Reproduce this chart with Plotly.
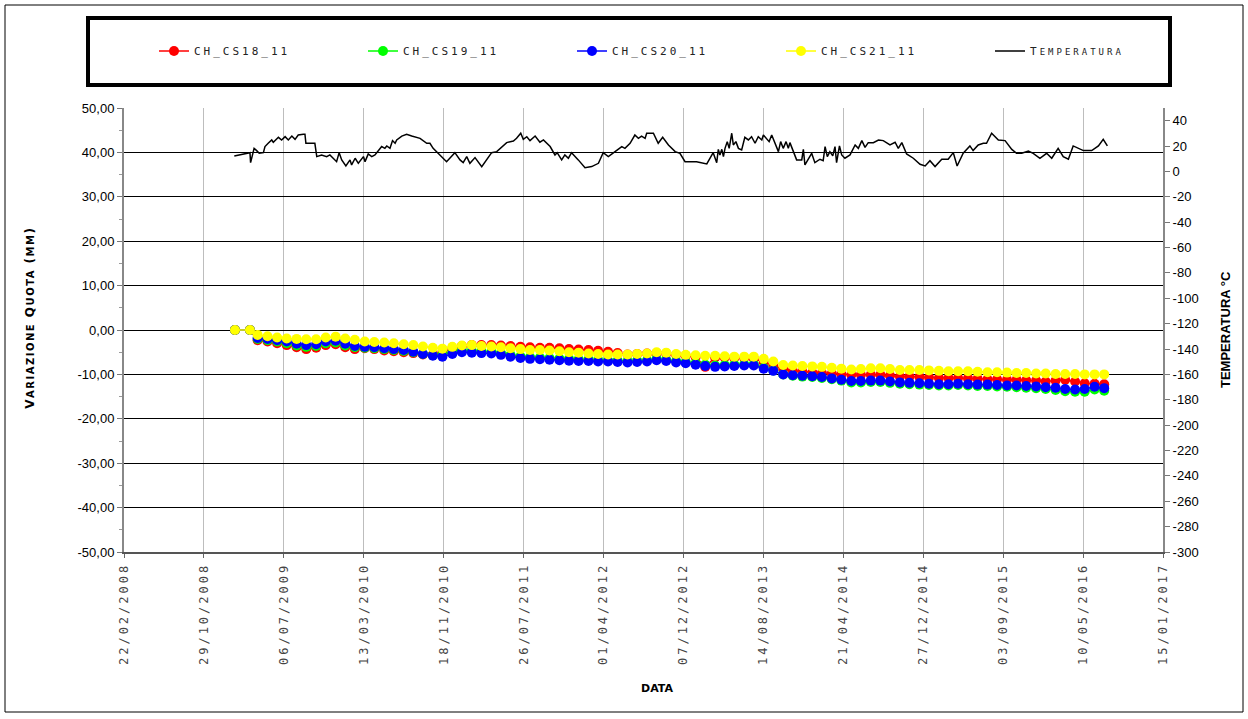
import pandas as pd
import plotly.graph_objects as go

# ---------------- data (Excel serial dates) ----------------
disp_serial = [39847, 39894,
    39918, 39949, 39979, 40009, 40040, 40070, 40101, 40131, 40162, 40192,
    40222, 40253, 40283, 40314, 40344, 40375, 40405, 40435, 40466, 40496,
    40527, 40557, 40588, 40618, 40649, 40679, 40709, 40740, 40770, 40801,
    40831, 40862, 40892, 40922, 40953, 40983, 41014, 41044, 41075, 41105,
    41136, 41166, 41196, 41227, 41257, 41288, 41318, 41349, 41379, 41409,
    41440, 41470, 41501, 41531, 41562, 41592, 41622, 41653, 41683, 41714,
    41744, 41775, 41805, 41836, 41866, 41896, 41927, 41957, 41988, 42018,
    42049, 42079, 42109, 42140, 42170, 42201, 42231, 42262, 42292, 42322,
    42353, 42383, 42414, 42444, 42475, 42505, 42536, 42566]

cs18 = [0.0, 0.0,
    -2.3, -2.6, -3.0, -3.4, -3.9, -4.3, -4.0, -3.4, -3.2, -3.9,
    -4.3, -4.1, -4.3, -4.6, -4.8, -5.0, -5.2, -5.5, -5.5, -5.0,
    -4.2, -3.6, -3.4, -3.4, -3.4, -3.5, -3.6, -3.8, -3.9, -4.0,
    -4.0, -4.1, -4.3, -4.4, -4.5, -4.7, -4.9, -5.2, -5.5, -5.4,
    -5.3, -5.2, -5.3, -5.6, -5.8, -6.1, -8.3, -6.2, -6.2, -6.3,
    -6.3, -6.4, -7.2, -8.0, -8.8, -9.2, -9.4, -9.6, -9.7, -9.8,
    -10.0, -10.1, -10.1, -10.1, -10.1, -10.3, -10.5, -10.5, -10.6, -10.7,
    -10.8, -10.8, -10.8, -10.9, -11.0, -11.1, -11.1, -11.2, -11.2, -11.3,
    -11.4, -11.6, -11.4, -11.2, -11.6, -12.0, -12.1, -12.2]

cs19 = [0.0, 0.0,
    -2.0, -2.3, -2.6, -3.0, -3.5, -3.8, -3.6, -3.0, -2.8, -3.5,
    -3.9, -4.0, -4.1, -4.3, -4.5, -4.7, -5.0, -5.4, -5.7, -5.6,
    -5.0, -4.6, -4.7, -4.8, -4.9, -5.2, -5.6, -5.9, -6.1, -6.2,
    -6.3, -6.4, -6.5, -6.6, -6.6, -6.7, -6.8, -6.9, -7.0, -6.9,
    -6.8, -6.5, -6.7, -7.0, -7.2, -7.5, -7.8, -8.0, -7.9, -7.8,
    -7.7, -7.7, -8.5, -9.1, -10.0, -10.3, -10.5, -10.6, -10.8, -11.1,
    -11.4, -11.8, -11.8, -11.7, -11.7, -11.9, -12.1, -12.2, -12.3, -12.4,
    -12.5, -12.5, -12.4, -12.5, -12.6, -12.6, -12.7, -12.8, -12.9, -13.0,
    -13.1, -13.3, -13.5, -13.8, -13.9, -13.9, -13.4, -13.7]

cs20 = [0.0, 0.0,
    -1.8, -2.0, -2.3, -2.6, -3.1, -3.4, -3.2, -2.6, -2.4, -3.1,
    -3.6, -3.8, -3.9, -4.1, -4.3, -4.5, -4.9, -5.4, -5.8, -6.0,
    -5.4, -5.0, -5.1, -5.2, -5.3, -5.6, -6.0, -6.3, -6.5, -6.6,
    -6.7, -6.8, -6.9, -7.0, -7.0, -7.1, -7.1, -7.2, -7.3, -7.2,
    -7.1, -6.8, -7.0, -7.3, -7.5, -7.8, -8.1, -8.3, -8.2, -8.1,
    -8.0, -8.0, -8.7, -9.2, -10.0, -10.2, -10.3, -10.4, -10.6, -10.9,
    -11.2, -11.5, -11.5, -11.4, -11.4, -11.6, -11.8, -11.9, -12.0, -12.1,
    -12.2, -12.2, -12.1, -12.2, -12.3, -12.3, -12.4, -12.5, -12.5, -12.6,
    -12.7, -12.9, -13.0, -13.3, -13.4, -13.3, -12.8, -13.1]

cs21 = [0.0, 0.0,
    -1.1, -1.4, -1.7, -1.9, -2.0, -2.1, -2.1, -1.7, -1.5, -1.9,
    -2.2, -2.6, -2.7, -2.8, -3.0, -3.2, -3.4, -3.7, -4.0, -4.2,
    -3.8, -3.5, -3.4, -3.6, -3.7, -3.9, -4.1, -4.3, -4.5, -4.5,
    -4.6, -4.8, -5.0, -5.1, -5.3, -5.4, -5.5, -5.5, -5.5, -5.4,
    -5.3, -5.0, -5.1, -5.4, -5.6, -5.7, -5.8, -5.8, -5.9, -6.0,
    -6.0, -6.0, -6.5, -7.1, -7.9, -8.0, -8.1, -8.2, -8.3, -8.5,
    -8.7, -8.9, -8.8, -8.6, -8.6, -8.8, -9.0, -9.0, -9.0, -9.1,
    -9.2, -9.3, -9.3, -9.3, -9.4, -9.5, -9.5, -9.6, -9.7, -9.7,
    -9.8, -9.8, -9.9, -9.9, -9.9, -10.0, -10.0, -10.0]

temp_serial = [39845, 39894, 39896, 39907, 39915, 39923, 39936, 39941, 39951, 39962,
    39967, 39983, 39993, 40004, 40014, 40025, 40035, 40045, 40061, 40066,
    40069, 40082, 40097, 40103, 40118, 40134, 40144, 40165, 40173, 40181,
    40194, 40207, 40212, 40223, 40233, 40249, 40254, 40264, 40275, 40285,
    40306, 40316, 40322, 40332, 40340, 40348, 40353, 40369, 40384, 40400,
    40426, 40447, 40457, 40467, 40480, 40488, 40509, 40535, 40551, 40561,
    40572, 40582, 40598, 40619, 40650, 40666, 40697, 40718, 40728, 40741,
    40749, 40760, 40770, 40786, 40801, 40812, 40833, 40848, 40855, 40869,
    40879, 40890, 40900, 40921, 40942, 40963, 40984, 40999, 41015, 41036,
    41057, 41067, 41083, 41098, 41109, 41119, 41130, 41135, 41156, 41171,
    41185, 41203, 41224, 41239, 41255, 41291, 41323, 41343, 41354, 41359,
    41364, 41370, 41375, 41380, 41387, 41393, 41401, 41406, 41414, 41422,
    41432, 41442, 41453, 41463, 41474, 41484, 41495, 41500, 41510, 41518,
    41526, 41536, 41547, 41554, 41562, 41571, 41578, 41583, 41594, 41604,
    41620, 41625, 41630, 41641, 41651, 41661, 41677, 41687, 41693, 41700,
    41708, 41717, 41724, 41729, 41738, 41745, 41755, 41771, 41787, 41797,
    41808, 41818, 41828, 41844, 41860, 41875, 41896, 41912, 41922, 41933,
    41948, 41969, 41990, 42006, 42021, 42037, 42058, 42078, 42094, 42106,
    42125, 42146, 42156, 42172, 42188, 42198, 42214, 42235, 42256, 42277,
    42292, 42308, 42329, 42344, 42365, 42386, 42402, 42422, 42438, 42454,
    42469, 42501, 42527, 42548, 42563, 42576]

temperature = [12.2, 14.8, 6.9, 18.2, 16.4, 14.3, 14.8, 19.6, 22.2, 24.8,
    23.0, 26.9, 24.8, 27.4, 24.8, 27.9, 25.3, 28.7, 29.3, 29.3,
    22.2, 22.2, 22.2, 11.7, 13.0, 11.7, 13.0, 7.7, 14.8, 9.1,
    4.3, 9.1, 5.1, 10.4, 6.4, 11.7, 7.7, 13.8, 11.7, 13.0,
    19.6, 18.2, 20.1, 18.2, 24.3, 22.2, 24.8, 27.9, 29.3, 27.9,
    26.1, 22.2, 22.2, 18.2, 14.8, 13.0, 7.7, 14.8, 9.1, 6.9,
    11.7, 6.4, 10.9, 3.8, 14.8, 15.6, 22.7, 24.0, 26.1, 30.1,
    25.3, 27.4, 24.3, 27.9, 23.0, 24.8, 19.6, 13.0, 14.8, 9.1,
    13.0, 10.4, 14.8, 9.1, 3.0, 3.8, 6.4, 14.8, 11.7, 15.6,
    19.6, 18.2, 22.2, 28.7, 26.1, 27.9, 26.1, 30.1, 30.1, 22.2,
    26.9, 20.9, 15.6, 14.3, 7.7, 7.7, 5.9, 14.8, 6.9, 17.4,
    13.0, 17.4, 11.7, 18.2, 23.5, 18.2, 30.1, 20.9, 23.5, 18.2,
    16.9, 26.9, 24.8, 27.4, 22.2, 27.4, 24.8, 28.7, 26.1, 23.5,
    28.7, 22.2, 15.6, 23.5, 18.2, 23.5, 18.2, 22.7, 15.6, 9.1,
    9.1, 17.4, 5.1, 10.4, 14.3, 6.9, 9.6, 8.5, 19.6, 11.7,
    15.6, 12.2, 19.6, 6.9, 20.1, 13.0, 10.4, 13.0, 20.9, 18.2,
    24.3, 19.0, 22.7, 22.7, 24.8, 24.3, 20.9, 23.0, 18.2, 22.7,
    13.8, 10.4, 5.6, 4.3, 8.5, 3.8, 9.6, 9.6, 14.8, 4.3,
    14.3, 20.1, 16.4, 20.9, 22.2, 22.2, 30.1, 24.8, 24.3, 17.4,
    14.3, 14.3, 16.1, 14.3, 10.4, 14.3, 10.4, 18.2, 11.7, 9.6,
    20.1, 16.4, 16.4, 20.1, 25.3, 20.1]

series_names = ["CH_CS18_11", "CH_CS19_11", "CH_CS20_11", "CH_CS21_11"]
series_colors = ["#FF0000", "#00FF00", "#0000FF", "#FFFF00"]
temp_name = "T<span style='font-size:9px'>EMPERATURA</span>"

left_ticks = [-50, -40, -30, -20, -10, 0, 10, 20, 30, 40, 50]
right_ticks = [-300, -280, -260, -240, -220, -200, -180, -160, -140, -120, -100,
               -80, -60, -40, -20, 0, 20, 40]
x_start, x_end, x_step_days = 39500, 42750, 250


def to_date(serials):
    return pd.to_datetime(pd.Series(serials), unit="D", origin="1899-12-30")


disp_dates = to_date(disp_serial)
temp_dates = to_date(temp_serial)

fig = go.Figure()
for name, col, vals in zip(series_names, series_colors, [cs18, cs19, cs20, cs21]):
    fig.add_trace(go.Scatter(
        x=disp_dates, y=vals, name=name, mode="lines+markers",
        line=dict(color=col, width=1.5),
        marker=dict(color=col, size=10, line=dict(width=0)),
    ))
fig.add_trace(go.Scatter(
    x=temp_dates, y=temperature, name=temp_name, mode="lines",
    line=dict(color="black", width=1.5), yaxis="y2",
))

L, R, T, B = 124, 85, 108, 167
W, H = 1248, 719
pw, ph = W - L - R, H - T - B


def px_x(p):
    return (p - L) / pw


def px_y(p):
    return (H - B - p) / ph


fig.update_layout(
    width=W, height=H, autosize=False,
    margin=dict(l=L, r=R, t=T, b=B, pad=0),
    paper_bgcolor="white", plot_bgcolor="white",
    font=dict(family="Liberation Sans, Arial", size=13, color="black"),
    showlegend=True,
    legend=dict(
        orientation="h", x=px_x(118), xanchor="left", y=px_y(51), yanchor="middle",
        indentation=36,
        bgcolor="rgba(0,0,0,0)", borderwidth=0,
        font=dict(family="DejaVu Sans Mono", size=11, color="#222"),
        entrywidth=128, entrywidthmode="pixels", itemwidth=30,
    ),
    xaxis=dict(
        type="date",
        range=[to_date([x_start])[0], to_date([x_end])[0]],
        tick0=to_date([x_start])[0], dtick=x_step_days * 86400000,
        tickformat="%d/%m/%Y", tickangle=-90,
        tickfont=dict(family="DejaVu Sans Mono", size=12, color="#444"),
        ticks="outside", ticklen=4, tickcolor="#666",
        showgrid=True, gridcolor="#BDBDBD", gridwidth=1,
        showline=True, linecolor="#555", linewidth=2,
        zeroline=False,
    ),
    yaxis=dict(
        range=[-50, 50], tickmode="array", tickvals=left_ticks,
        ticktext=[f"{v:.2f}".replace(".", ",") for v in left_ticks],
        ticks="outside", ticklen=5, tickcolor="#777",
        minor=dict(ticks="outside", ticklen=3, tick0=-45, dtick=10, tickcolor="#999", showgrid=False),
        showgrid=True, gridcolor="black", gridwidth=1,
        showline=True, linecolor="#888", linewidth=2,
        zeroline=False,
        tickfont=dict(size=13),
    ),
    yaxis2=dict(
        overlaying="y", side="right", range=[-300, 50],
        tickmode="array", tickvals=right_ticks, ticktext=[str(v) for v in right_ticks],
        ticks="outside", ticklen=5, tickcolor="#777",
        showgrid=False, zeroline=False,
        showline=True, linecolor="#888", linewidth=2,
        tickfont=dict(size=13),
    ),
    shapes=[
        dict(type="rect", xref="paper", yref="paper",
             x0=px_x(5), x1=px_x(1243), y0=px_y(712), y1=px_y(5),
             line=dict(color="black", width=1), fillcolor="rgba(0,0,0,0)", layer="above"),
        dict(type="rect", xref="paper", yref="paper",
             x0=px_x(88), x1=px_x(1170), y0=px_y(85), y1=px_y(18),
             line=dict(color="black", width=4), fillcolor="rgba(0,0,0,0)", layer="above"),
    ],
    annotations=[
        dict(text="<b>V<span style='font-size:10px'>ARIAZIONE</span> Q<span style='font-size:10px'>UOTA</span> (<span style='font-size:10px'>MM</span>)</b>",
             xref="paper", yref="paper", x=px_x(30), y=px_y(318), textangle=-90,
             xanchor="center", yanchor="middle",
             showarrow=False, font=dict(family="DejaVu Sans", size=12, color="black")),
        dict(text="<b>TEMPERATURA °C</b>",
             xref="paper", yref="paper", x=px_x(1225), y=px_y(330), textangle=-90,
             xanchor="center", yanchor="middle",
             showarrow=False, font=dict(family="Liberation Sans, Arial", size=13, color="black")),
        dict(text="<b>DATA</b>",
             xref="paper", yref="paper", x=px_x(657), y=px_y(688),
             xanchor="center", yanchor="middle",
             showarrow=False, font=dict(family="DejaVu Sans", size=11, color="black")),
    ],
)

post = """
document.body.style.margin = '0';
document.querySelectorAll('.legendtext').forEach(function(e){ e.style.letterSpacing = '3px'; });
document.querySelectorAll('.xtick text').forEach(function(e){ e.style.letterSpacing = '3px'; });
document.querySelectorAll('.annotation-text').forEach(function(e){
    if (e.textContent.indexOf('ARIAZIONE') >= 0) { e.style.letterSpacing = '1.5px'; }
});
"""

fig.write_html("out.html", post_script=post, config={"displayModeBar": False})
